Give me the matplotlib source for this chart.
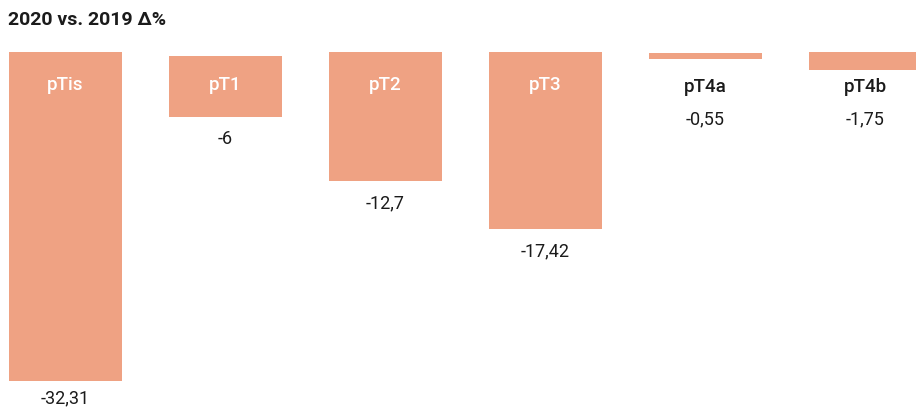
import matplotlib
matplotlib.use("Agg")
import matplotlib.pyplot as plt
import numpy as np

categories = ["pTis", "pT1", "pT2", "pT3", "pT4a", "pT4b"]
values = [-32.31, -6, -12.7, -17.42, -0.55, -1.75]
value_labels = ["-32,31", "-6", "-12,7", "-17,42", "-0,55", "-1,75"]
title = "2020 vs. 2019 \u0394%"

BAR = "#EFA283"
DARK = "#1b1b1b"
FONT = ["Roboto", "DejaVu Sans"]

W, H = 916, 410
fig = plt.figure(figsize=(W / 100, H / 100), dpi=100)
ax = fig.add_axes([0, 0, 1, 1])

px_per_unit = 10.18
zero_px = 53
ax.set_ylim(-(H - zero_px) / px_per_unit, zero_px / px_per_unit)
ax.set_xlim(-65.5 / 160, (W - 65.5) / 160)

x = np.arange(len(categories))
offsets = [0, -0.4, 0, 0, -0.1, 0]
ax.bar(x, values, bottom=offsets, width=113 / 160, color=BAR, linewidth=0)

cat_y = -(85 - zero_px) / px_per_unit
lowest = -(398 - zero_px) / px_per_unit
for xi, v, off, cat, vl in zip(x, values, offsets, categories, value_labels):
    bottom = v + off
    inside = bottom < cat_y - 1.5
    ax.text(xi, cat_y if inside else cat_y - 0.15, cat, ha="center", va="center",
            color="white" if inside else DARK, fontsize=13.5, fontweight="medium",
            family=FONT)
    ylab = min(bottom - 21 / px_per_unit, -(119 - zero_px) / px_per_unit)
    ylab = max(ylab, lowest)
    ax.text(xi, ylab, vl, ha="center", va="center", color=DARK,
            fontsize=13, family=FONT)

fig.text(8 / W, 1 - 20 / H, title, ha="left", va="center", color=DARK,
         fontsize=14, fontweight="bold", family=FONT)

ax.axis("off")
fig.savefig("out.png", dpi=100)
